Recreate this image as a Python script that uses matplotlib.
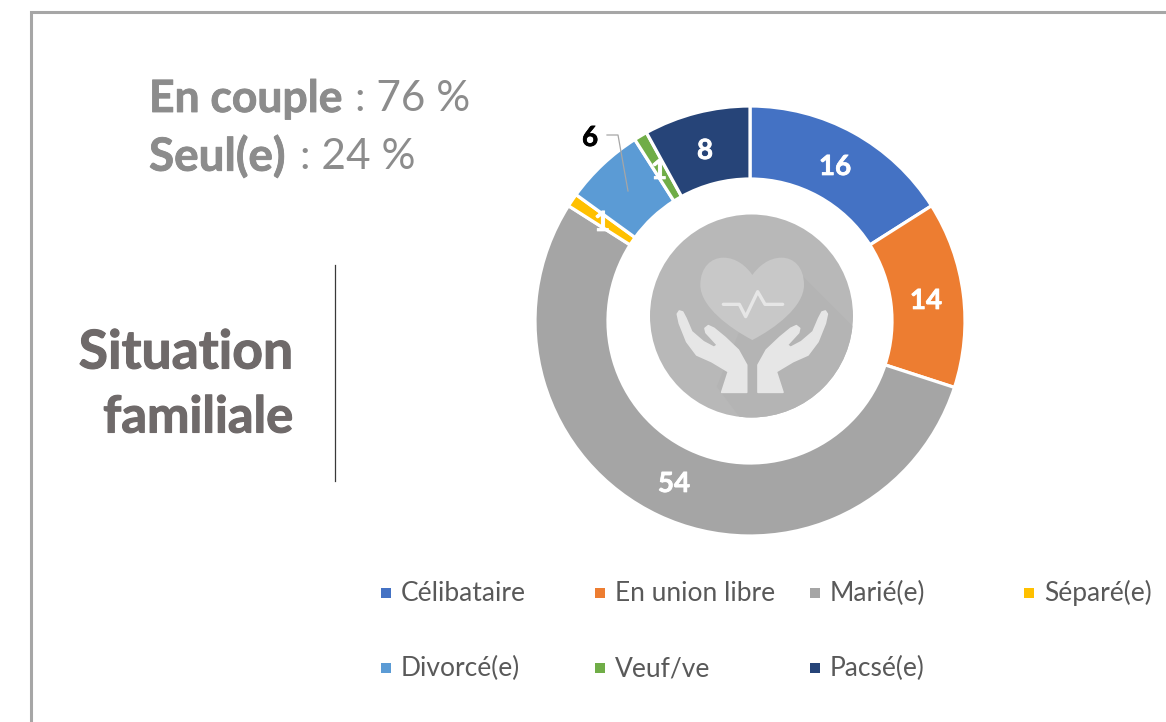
import matplotlib
matplotlib.use("Agg")
import matplotlib.pyplot as plt
import matplotlib.patheffects as pe
from matplotlib.patches import Circle, Polygon, Rectangle, PathPatch
from matplotlib.path import Path

categories = ["Célibataire", "En union libre", "Marié(e)", "Séparé(e)", "Divorcé(e)", "Veuf/ve", "Pacsé(e)"]
values = [16, 14, 54, 1, 6, 1, 8]
colors = ["#4472C4", "#ED7D31", "#A5A5A5", "#FFC000", "#5B9BD5", "#70AD47", "#264478"]

W, H = 1166, 722
plt.rcParams["font.family"] = ["Lato", "DejaVu Sans"]
fig = plt.figure(figsize=(W / 100, H / 100), dpi=100)
ax = fig.add_axes([0, 0, 1, 1])


def Y(py):
    return H - py


def bold(col, w=0.9):
    return [pe.withStroke(linewidth=w, foreground=col)]


ax.pie(values, colors=colors, startangle=90, counterclock=False, radius=215,
       center=(750, Y(321)), wedgeprops=dict(width=73, edgecolor="white", linewidth=2.3))
ax.set_xlim(0, W)
ax.set_ylim(0, H)
ax.set_aspect("equal")
ax.axis("off")

# Frame
ax.plot([31, 31, W], [0, Y(12), Y(12)], color="#a6a6a6", lw=2.2, solid_joinstyle="miter")
ax.plot([335, 335], [Y(265), Y(481)], color="#3a3a3a", lw=0.9)

# Central icon
circ = Circle((751.5, Y(316)), 101.5, fc="#b8b8b8", ec="none")
ax.add_patch(circ)


def Z(x, y):
    return (640 + x / 3, Y(210 + y / 3))


shadow = Polygon([Z(480, 190), Z(700, 410), Z(700, 700), Z(320, 650), Z(230, 530), Z(300, 360)],
                 fc="#b4b4b4", ec="none")
ax.add_patch(shadow)
shadow.set_clip_path(circ)

heart_pts = [(337, 390), (270, 355), (181, 290), (181, 225), (181, 170), (215, 143), (250, 143),
             (290, 143), (320, 170), (337, 195), (355, 170), (385, 143), (425, 143),
             (460, 143), (492, 170), (492, 225), (492, 290), (405, 355), (337, 390)]
heart_codes = [Path.MOVETO] + [Path.CURVE4] * 18
ax.add_patch(PathPatch(Path([Z(*p) for p in heart_pts], heart_codes), fc="#c8c8c8", ec="none"))

pulse = [(250, 283), (298, 283), (317, 320), (353, 245), (375, 283), (428, 283)]
ax.plot(*zip(*[Z(*p) for p in pulse]), color="#e6e6e6", lw=2.4, solid_capstyle="round", solid_joinstyle="round")

hand = [(112, 312), (118, 303), (128, 306), (138, 325), (155, 365), (190, 395), (222, 412), (232, 405),
        (198, 368), (195, 355), (205, 347), (222, 355), (255, 382), (295, 420), (320, 465), (320, 547),
        (245, 547), (265, 485), (215, 455), (170, 435), (140, 395), (118, 340)]
for pts in (hand, [(674 - x, y) for x, y in hand]):
    ax.add_patch(Polygon([Z(*p) for p in pts], fc="#e6e6e6", ec="#e6e6e6", lw=1.2, joinstyle="round"))

# Data labels
label_pos = [(835, 167), (926, 301), (674, 484), (602, 223), (590, 138), (659, 171), (705, 151)]
label_col = ["white", "white", "white", "white", "black", "white", "white"]
ax.plot([607, 618, 628], [Y(135), Y(135), Y(191)], color="#a6a6a6", lw=0.9)
for v, (x, y), c in zip(values, label_pos, label_col):
    ax.text(x, Y(y), str(v), color=c, fontsize=20, fontweight="bold", ha="center", va="center",
            path_effects=bold(c, 0.5))

# Headline text
g = "#8c8c8c"
ax.text(149, Y(99), "En couple", color=g, fontsize=32, fontweight="bold", ha="left", va="center",
        path_effects=bold(g, 0.6))
ax.text(355, Y(99), ": 76 %", color=g, fontsize=30.5, ha="left", va="center")
ax.text(149, Y(157), "Seul(e)", color=g, fontsize=33, fontweight="bold", ha="left", va="center",
        path_effects=bold(g, 0.6))
ax.text(300, Y(157), ": 24 %", color=g, fontsize=30.5, ha="left", va="center")
ax.text(186, Y(353), "Situation", color="#6f6a6a", fontsize=38.5, fontweight="bold", ha="center", va="center",
        path_effects=bold("#6f6a6a", 0.8))
ax.text(198, Y(418), "familiale", color="#6f6a6a", fontsize=36.5, fontweight="bold", ha="center", va="center",
        path_effects=bold("#6f6a6a", 0.8))

# Legend
leg_x = [381, 595, 810, 1024, 381, 595, 810]
leg_y = [593, 593, 593, 593, 668, 668, 668]
for name, c, x, y in zip(categories, colors, leg_x, leg_y):
    ax.add_patch(Rectangle((x, Y(y) - 5), 10, 10, fc=c, ec="none"))
    ax.text(x + 20, Y(y) - 8, name, color="#595959", fontsize=19, ha="left", va="baseline")

fig.savefig("out.png", dpi=100)
